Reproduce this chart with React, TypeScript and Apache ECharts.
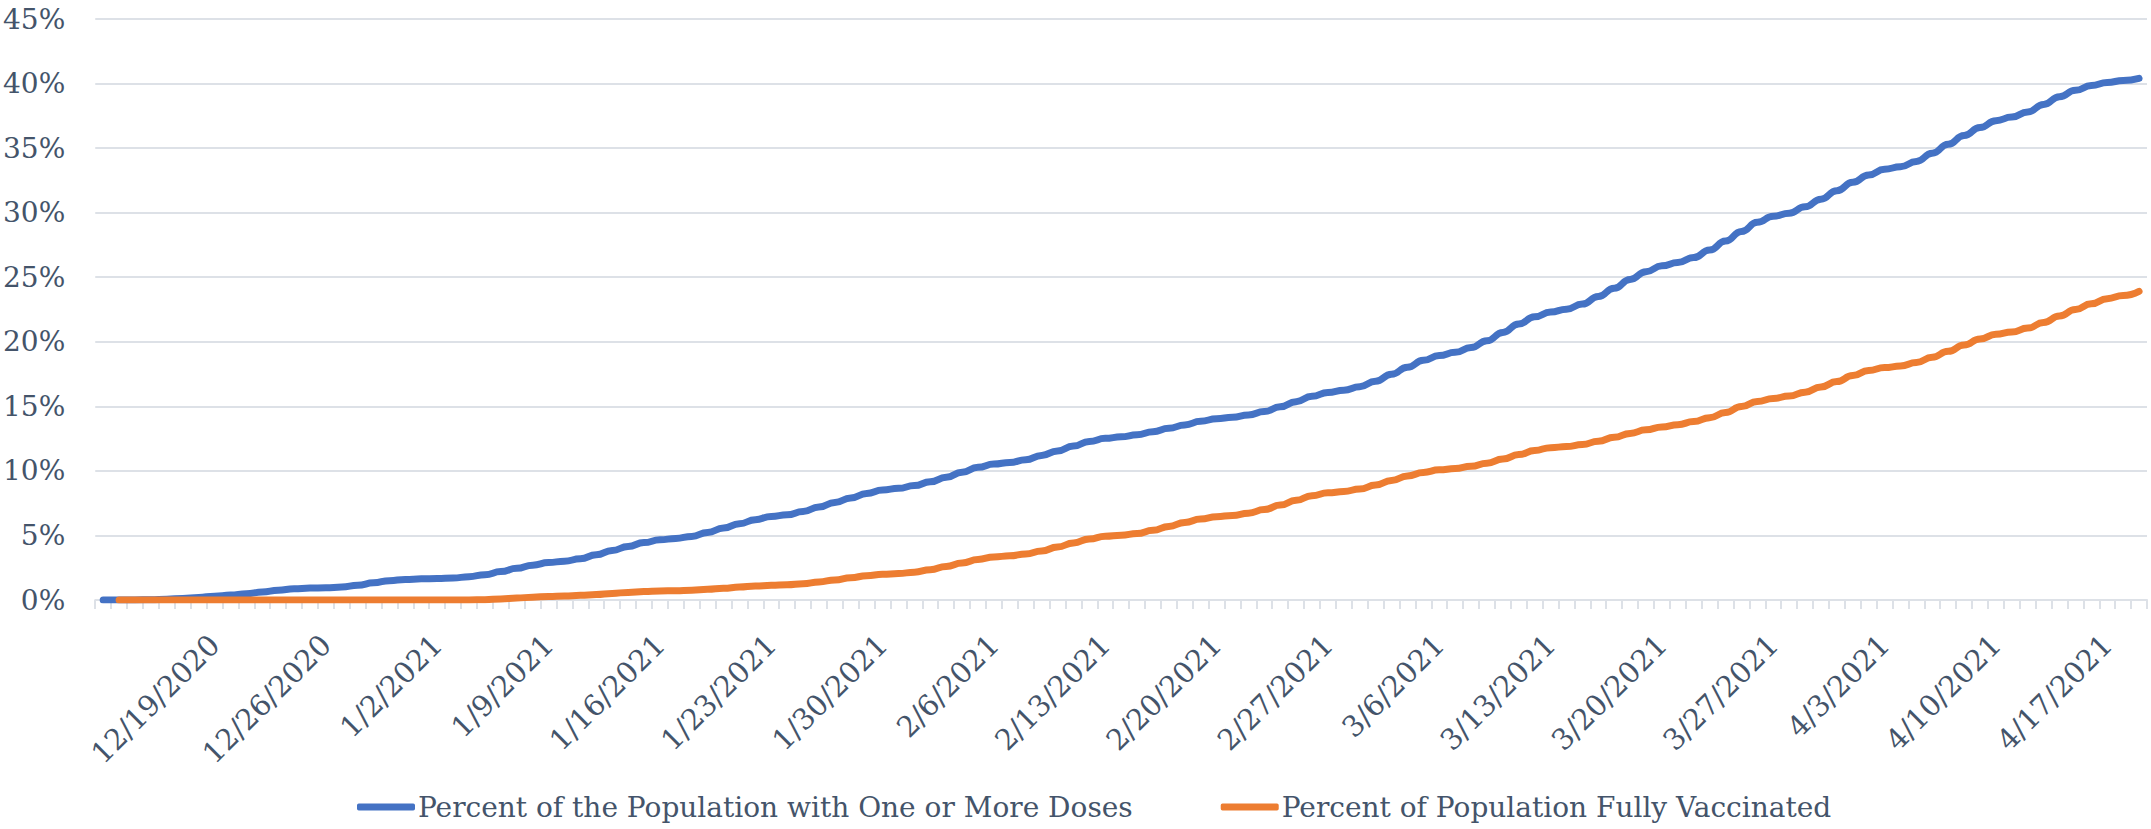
import React, { useEffect, useRef } from "react";
import * as echarts from "echarts";

const dates: string[] = (
  "12/12/2020 12/13/2020 12/14/2020 12/15/2020 12/16/2020 12/17/2020 12/18/2020 12/19/2020 12/20/2020 12/21/2020 " +
  "12/22/2020 12/23/2020 12/24/2020 12/25/2020 12/26/2020 12/27/2020 12/28/2020 12/29/2020 12/30/2020 12/31/2020 " +
  "1/1/2021 1/2/2021 1/3/2021 1/4/2021 1/5/2021 1/6/2021 1/7/2021 1/8/2021 1/9/2021 1/10/2021 " +
  "1/11/2021 1/12/2021 1/13/2021 1/14/2021 1/15/2021 1/16/2021 1/17/2021 1/18/2021 1/19/2021 1/20/2021 " +
  "1/21/2021 1/22/2021 1/23/2021 1/24/2021 1/25/2021 1/26/2021 1/27/2021 1/28/2021 1/29/2021 1/30/2021 " +
  "1/31/2021 2/1/2021 2/2/2021 2/3/2021 2/4/2021 2/5/2021 2/6/2021 2/7/2021 2/8/2021 2/9/2021 " +
  "2/10/2021 2/11/2021 2/12/2021 2/13/2021 2/14/2021 2/15/2021 2/16/2021 2/17/2021 2/18/2021 2/19/2021 " +
  "2/20/2021 2/21/2021 2/22/2021 2/23/2021 2/24/2021 2/25/2021 2/26/2021 2/27/2021 2/28/2021 3/1/2021 " +
  "3/2/2021 3/3/2021 3/4/2021 3/5/2021 3/6/2021 3/7/2021 3/8/2021 3/9/2021 3/10/2021 3/11/2021 " +
  "3/12/2021 3/13/2021 3/14/2021 3/15/2021 3/16/2021 3/17/2021 3/18/2021 3/19/2021 3/20/2021 3/21/2021 " +
  "3/22/2021 3/23/2021 3/24/2021 3/25/2021 3/26/2021 3/27/2021 3/28/2021 3/29/2021 3/30/2021 3/31/2021 " +
  "4/1/2021 4/2/2021 4/3/2021 4/4/2021 4/5/2021 4/6/2021 4/7/2021 4/8/2021 4/9/2021 4/10/2021 " +
  "4/11/2021 4/12/2021 4/13/2021 4/14/2021 4/15/2021 4/16/2021 4/17/2021 4/18/2021 4/19/2021"
).split(" ");

const oneOrMoreDoses: number[] = [
  0, 0, 0, 0.02, 0.06, 0.12, 0.2, 0.3, 0.38, 0.48,
  0.62, 0.76, 0.87, 0.92, 0.95, 1.0, 1.14, 1.33, 1.5, 1.59,
  1.64, 1.67, 1.71, 1.8, 1.96, 2.2, 2.45, 2.7, 2.9, 3.0,
  3.2, 3.5, 3.83, 4.15, 4.45, 4.66, 4.77, 4.92, 5.23, 5.57,
  5.9, 6.22, 6.47, 6.6, 6.85, 7.2, 7.55, 7.9, 8.25, 8.52,
  8.65, 8.86, 9.15, 9.5, 9.9, 10.28, 10.53, 10.65, 10.86, 11.2,
  11.55, 11.92, 12.28, 12.52, 12.64, 12.8, 13.04, 13.3, 13.56, 13.84,
  14.04, 14.15, 14.32, 14.6, 14.96, 15.36, 15.78, 16.08, 16.25, 16.52,
  16.95, 17.48, 18.03, 18.56, 18.93, 19.18, 19.55, 20.08, 20.72, 21.38,
  21.94, 22.3, 22.52, 22.92, 23.5, 24.15, 24.83, 25.43, 25.88, 26.14,
  26.52, 27.1, 27.8, 28.54, 29.25, 29.72, 29.96, 30.45, 31.04, 31.7,
  32.35, 32.92, 33.36, 33.56, 33.97, 34.6, 35.3, 35.98, 36.6, 37.12,
  37.4, 37.8, 38.38, 38.98, 39.48, 39.84, 40.08, 40.24, 40.4,
];

const fullyVaccinated: (number | null)[] = [
  null, 0, 0, 0, 0, 0, 0, 0, 0, 0,
  0, 0, 0, 0, 0, 0, 0, 0, 0, 0,
  0, 0, 0, 0, 0.02, 0.08, 0.15, 0.22, 0.28, 0.31,
  0.36, 0.43, 0.51, 0.59, 0.66, 0.7, 0.72, 0.76, 0.83, 0.91,
  1.0, 1.08, 1.14, 1.18, 1.26, 1.4, 1.55, 1.72, 1.88, 1.99,
  2.05, 2.15, 2.35, 2.6, 2.87, 3.14, 3.34, 3.42, 3.56, 3.8,
  4.1, 4.42, 4.73, 4.94, 5.02, 5.15, 5.4, 5.7, 6.0, 6.28,
  6.45, 6.55, 6.72, 7.0, 7.35, 7.72, 8.08, 8.3, 8.4, 8.6,
  8.9, 9.25, 9.6, 9.88, 10.08, 10.18, 10.35, 10.6, 10.92, 11.26,
  11.58, 11.8, 11.88, 12.04, 12.3, 12.6, 12.9, 13.18, 13.4, 13.58,
  13.82, 14.12, 14.52, 14.98, 15.38, 15.6, 15.8, 16.1, 16.5, 16.92,
  17.38, 17.78, 18.0, 18.12, 18.4, 18.8, 19.26, 19.75, 20.22, 20.58,
  20.76, 21.06, 21.5, 22.0, 22.5, 22.94, 23.34, 23.58, 23.9,
];

const seriesNames = [
  "Percent of the Population with One or More Doses",
  "Percent of Population Fully Vaccinated",
];

const FONT = "'DejaVu Serif', Georgia, serif";
const TEXT = "#44546A";
const GRID = "#DDE1E7";

export default function App() {
  const ref = useRef<HTMLDivElement>(null);
  useEffect(() => {
    document.body.style.margin = "0";
    if (!ref.current) return;
    const chart = echarts.init(ref.current, undefined, { renderer: "svg" });
    chart.setOption({
      animation: false,
      backgroundColor: "#ffffff",
      grid: { left: 94, right: 4, top: 19, bottom: 229, containLabel: false },
      legend: {
        left: 357,
        top: 793,
        padding: 0,
        itemGap: 88,
        itemWidth: 58,
        itemHeight: 7,
        icon: "roundRect",
        textStyle: { fontFamily: FONT, fontSize: 28, color: TEXT, padding: [0, 0, 0, -2] },
        data: seriesNames,
      },
      xAxis: {
        type: "category",
        data: dates,
        boundaryGap: true,
        axisLine: { show: true, lineStyle: { color: GRID, width: 2 } },
        axisTick: { show: true, interval: 0, length: 9, lineStyle: { color: GRID, width: 2 } },
        axisLabel: {
          interval: (index: number) => index % 7 === 0 && index > 0,
          rotate: 45,
          margin: 40,
          fontFamily: FONT,
          fontSize: 29,
          color: TEXT,
        },
        splitLine: { show: false },
      },
      yAxis: {
        type: "value",
        min: 0,
        max: 45,
        interval: 5,
        axisLine: { show: false },
        axisTick: { show: false },
        axisLabel: {
          formatter: "{value}%",
          margin: 30,
          fontFamily: FONT,
          fontSize: 28,
          color: TEXT,
        },
        splitLine: { show: true, lineStyle: { color: GRID, width: 2 } },
      },
      series: [
        {
          name: seriesNames[0],
          type: "line",
          data: oneOrMoreDoses,
          showSymbol: false,
          symbol: "none",
          smooth: 0.5,
          smoothMonotone: "x",
          itemStyle: { color: "#4472C4" },
          lineStyle: { color: "#4472C4", width: 7, cap: "round", join: "round" },
        },
        {
          name: seriesNames[1],
          type: "line",
          data: fullyVaccinated,
          showSymbol: false,
          symbol: "none",
          smooth: 0.5,
          smoothMonotone: "x",
          itemStyle: { color: "#ED7D31" },
          lineStyle: { color: "#ED7D31", width: 7, cap: "round", join: "round" },
        },
      ],
    });
    return () => chart.dispose();
  }, []);
  return <div ref={ref} style={{ width: 2151, height: 829 }} />;
}
